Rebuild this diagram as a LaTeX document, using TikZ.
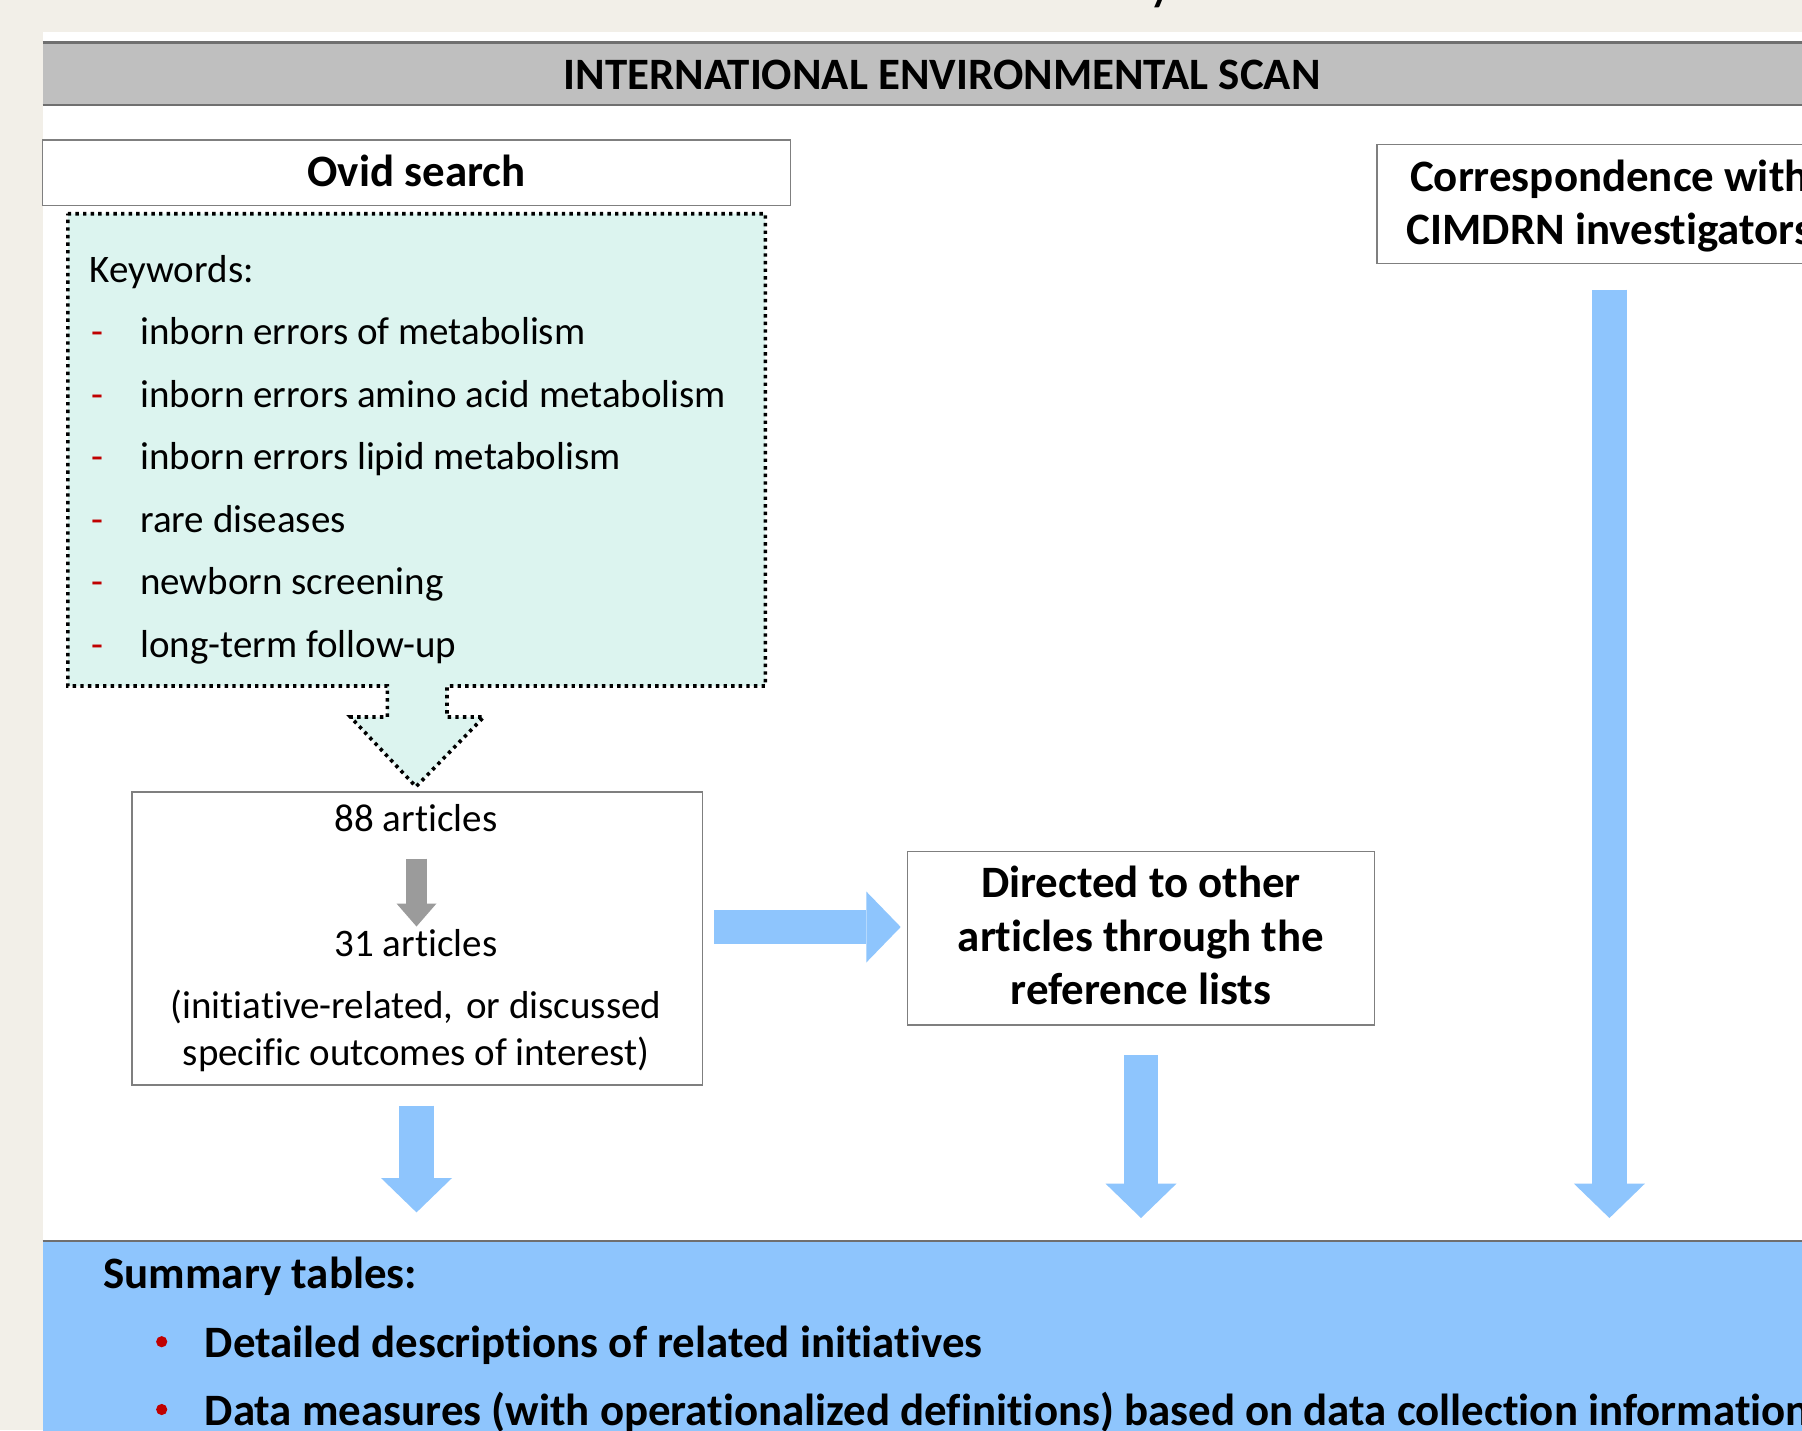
\documentclass[tikz,border=0pt]{standalone}
\usepackage{fontspec}
\setmainfont{Carlito}[Ligatures={NoCommon,NoContextual},RawFeature={-liga;-clig;-calt}]
\usetikzlibrary{arrows.meta}
\definecolor{beige}{HTML}{F2EFE8}
\definecolor{mint}{HTML}{DCF4EF}
\definecolor{myblue}{HTML}{8EC5FD}
\definecolor{bargray}{HTML}{BFBFBF}
\definecolor{bordergray}{HTML}{7F7F7F}
\definecolor{darkline}{HTML}{6F6F6F}
\definecolor{arrowgray}{HTML}{9B9B9B}
\definecolor{myred}{HTML}{C00000}
\newcommand\bigbold{\fontsize{44.9}{53}\selectfont\bfseries}
\newcommand\regtext{\fontsize{39}{47}\selectfont}
\begin{document}
\begin{tikzpicture}[x=1pt,y=-1pt,
  boxnode/.style={draw=bordergray, line width=1.5pt, fill=white, inner sep=0pt, outer sep=0pt},
  btext/.style={font=\bigbold, anchor=base, inner sep=0pt},
  rtext/.style={font=\regtext, anchor=base, inner sep=0pt},
  rtextw/.style={font=\regtext, anchor=base west, inner sep=0pt},
  bluearrow/.style={draw=myblue, line width=34.5pt, line cap=butt,
     -{Triangle[length=34.4pt,width=71pt,line width=0pt]}},
  grayarrow/.style={draw=arrowgray, line width=20.5pt, line cap=butt,
     -{Triangle[length=23pt,width=40pt,line width=0pt]}}]
\useasboundingbox (0,0) rectangle (1802,1430);
\clip (0,0) rectangle (1802,1430);
% backgrounds
\fill[beige] (0,0) rectangle (1802,1430);
\fill[white] (42.5,32) rectangle (1802,1430);
% fragment of title above
\begin{scope}
  \clip (0,0) rectangle (1802,32);
  \node[font=\fontsize{58}{60}\selectfont, anchor=base west, inner sep=0pt] (frag) at (1148,-1.5) {y};
\end{scope}
% title bar
\fill[bargray] (42.5,41.5) rectangle (1802,105.5);
\draw[darkline, line width=2.5pt] (42.5,42.5) -- (1802,42.5);
\draw[darkline, line width=2.5pt] (42.5,104.8) -- (1802,104.8);
\node[btext] (title) at (942,89) {INTERNATIONAL ENVIRONMENTAL SCAN};
% Ovid search box
\node[boxnode, minimum width=748.1pt, minimum height=65.7pt] (ovid) at (416.5,172.85) {};
\node[btext] (ovidt) at (416.5,186) {Ovid search};
% dotted keyword box with arrow
\draw[fill=mint, draw=black, line width=3.6pt, dash pattern=on 3.4pt off 4.2pt]
  (67.8,213.7) -- (765.4,213.7) -- (765.4,686) -- (447,686) -- (447,717)
  -- (483.8,717) -- (416,786.7) -- (350.5,717) -- (387.3,717) -- (387.3,686)
  -- (67.8,686) -- cycle;
\node[rtextw] (kw) at (89.6,282) {Keywords:};
\foreach \yy/\txt [count=\i] in {344.5/inborn errors of metabolism,
  407/inborn errors amino acid metabolism,
  469.5/inborn errors lipid metabolism,
  532/rare diseases,
  594.5/newborn screening,
  657/long-term follow-up}{
  \node[rtextw, text=myred] (dash\i) at (91,\yy) {-};
  \node[rtextw] (kwi\i) at (140,\yy) {\txt};
}
% articles box
\node[boxnode, minimum width=570.5pt, minimum height=293.2pt] (art) at (417.2,938.4) {};
\node[rtext] (a88) at (416,831) {88 articles};
\node[rtext] (a31) at (416,956) {31 articles};
\node[rtext] (a31b) at (416,1018) {(initiative-related,\hspace{0.1em} or discussed};
\node[rtext] (a31c) at (416,1065) {specific outcomes of interest)};
\coordinate (g1) at (416.5,858.5);
\coordinate (g2) at (416.5,926.5);
\draw[grayarrow] (g1) -- (g2);
% directed box
\node[boxnode, minimum width=466.6pt, minimum height=173.4pt] (dir) at (1141,938.3) {};
\node[btext] (d1) at (1141,897) {Directed to other};
\node[btext] (d2) at (1141,951) {articles through the};
\node[btext] (d3) at (1141,1004) {reference lists};
% correspondence box
\node[boxnode, minimum width=465.2pt, minimum height=118.8pt] (corr) at (1609.4,203.9) {};
\node[btext] (c1) at (1609.4,191) {Correspondence with};
\node[btext] (c2) at (1609.4,244) {CIMDRN investigators};
% summary box
\fill[myblue] (42.5,1241) rectangle (1802,1440);
\draw[darkline, line width=2pt] (42.5,1241) -- (1802,1241);
\coordinate (sum) at (1000,1241);
\node[btext, anchor=base west] (s0) at (103.4,1288) {Summary tables:};
\fill[myred] (161.7,1341.7) circle (5.6pt);
\fill[myred] (161.7,1409.5) circle (5.6pt);
\node[btext, anchor=base west] (s1) at (204.6,1357) {Detailed descriptions of related initiatives};
\node[btext, anchor=base west] (s2) at (204.6,1425) {Data measures (with operationalized definitions) based on data collection information};
% connectors
\coordinate (ay) at (0,927);
\draw[bluearrow, shorten <=12pt, shorten >=7pt] (art.east |- ay) -- (dir.west |- ay);
\draw[bluearrow, shorten <=20.5pt, shorten >=28.6pt] (416.5,1085) coordinate (artb) -- (artb |- sum);
\draw[bluearrow, line width=34.5pt, shorten <=30pt, shorten >=23pt] (dir.south) -- (dir.south |- sum);
\draw[bluearrow, line width=35.6pt, shorten <=26.3pt, shorten >=23pt] (corr.south) -- (corr.south |- sum);
\end{tikzpicture}
\end{document}
